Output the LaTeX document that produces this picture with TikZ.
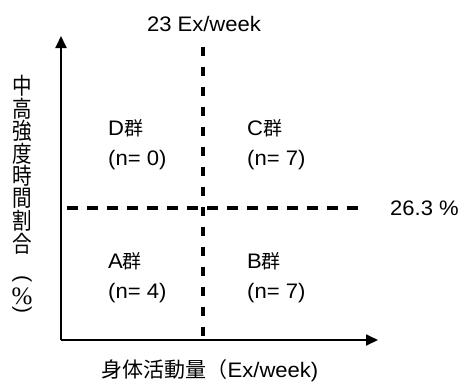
\documentclass[tikz,border=0pt]{standalone}
\usepackage{fontspec}
\setmainfont{Liberation Sans}[FakeStretch=1.05]
\newfontfamily\cjk{Noto Sans CJK JP}
\newfontfamily\cjkv{Noto Sans CJK JP}[FakeStretch=0.85]
\newfontfamily\serifv{Liberation Serif}
\newfontfamily\plainsans{Liberation Sans}
\usetikzlibrary{arrows.meta}
\begin{document}
\begin{tikzpicture}[x=1pt,y=-1pt,
  axis/.style={line width=1.8pt,-{Triangle[length=12pt,width=11pt]}},
  divider/.style={line width=3.4pt},
  lbl/.style={inner sep=0pt,font=\fontsize{21}{24}\selectfont},
  grp/.style={inner sep=0pt,anchor=west,align=left,font=\fontsize{21}{30}\selectfont},
  vch/.style={inner sep=0pt,font=\cjkv\fontsize{23}{23}\selectfont},
  arc/.style={inner sep=0pt,rotate=-90,font=\plainsans\fontsize{21}{21}\selectfont}]
\useasboundingbox (0,0) rectangle (463,383);
\coordinate (O) at (61,340);
\coordinate (ytop) at (61,36);
\coordinate (xend) at (378,340);
\coordinate (vtop) at (203,47);
\coordinate (vbot) at (203,340);
\coordinate (hl) at (67,208);
\coordinate (hr) at (360,208);
\draw[axis] (O) -- (ytop);
\draw[axis] (O) -- (xend);
\draw[divider,dash pattern=on 9pt off 11pt] (vtop) -- (vbot);
\draw[divider,dash pattern=on 11pt off 9pt] (hl) -- (hr);
\node[lbl] (xth) at (204,24) {23 Ex/week};
\node[lbl,anchor=west] (yth) at (390,208) {26.3 \%};
\node[grp] (D) at (108,145) {D{\cjk\fontsize{19}{30}\selectfont 群}\\(n= 0)};
\node[grp] (C) at (247,145) {C{\cjk\fontsize{19}{30}\selectfont 群}\\(n= 7)};
\node[grp] (A) at (108,278) {A{\cjk\fontsize{19}{30}\selectfont 群}\\(n= 4)};
\node[grp] (B) at (247,278) {B{\cjk\fontsize{19}{30}\selectfont 群}\\(n= 7)};
\node[lbl] (xlab) at (210,371) {{\cjk\fontsize{21}{24}\selectfont 身体活動量（}Ex/week)};
\node[vch] (v1) at (22,86) {中};
\node[vch] (v2) at (22,108.5) {高};
\node[vch] (v3) at (22,131) {強};
\node[vch] (v4) at (22,153.5) {度};
\node[vch] (v5) at (22,176) {時};
\node[vch] (v6) at (22,198.5) {間};
\node[vch] (v7) at (22,221) {割};
\node[vch] (v8) at (22,243.5) {合};
\node[arc] (v9) at (22,279) {(};
\node[inner sep=0pt,font=\serifv\fontsize{25}{25}\selectfont] (v10) at (22,296) {\%};
\node[arc] (v11) at (22,309.5) {)};
\end{tikzpicture}
\end{document}
